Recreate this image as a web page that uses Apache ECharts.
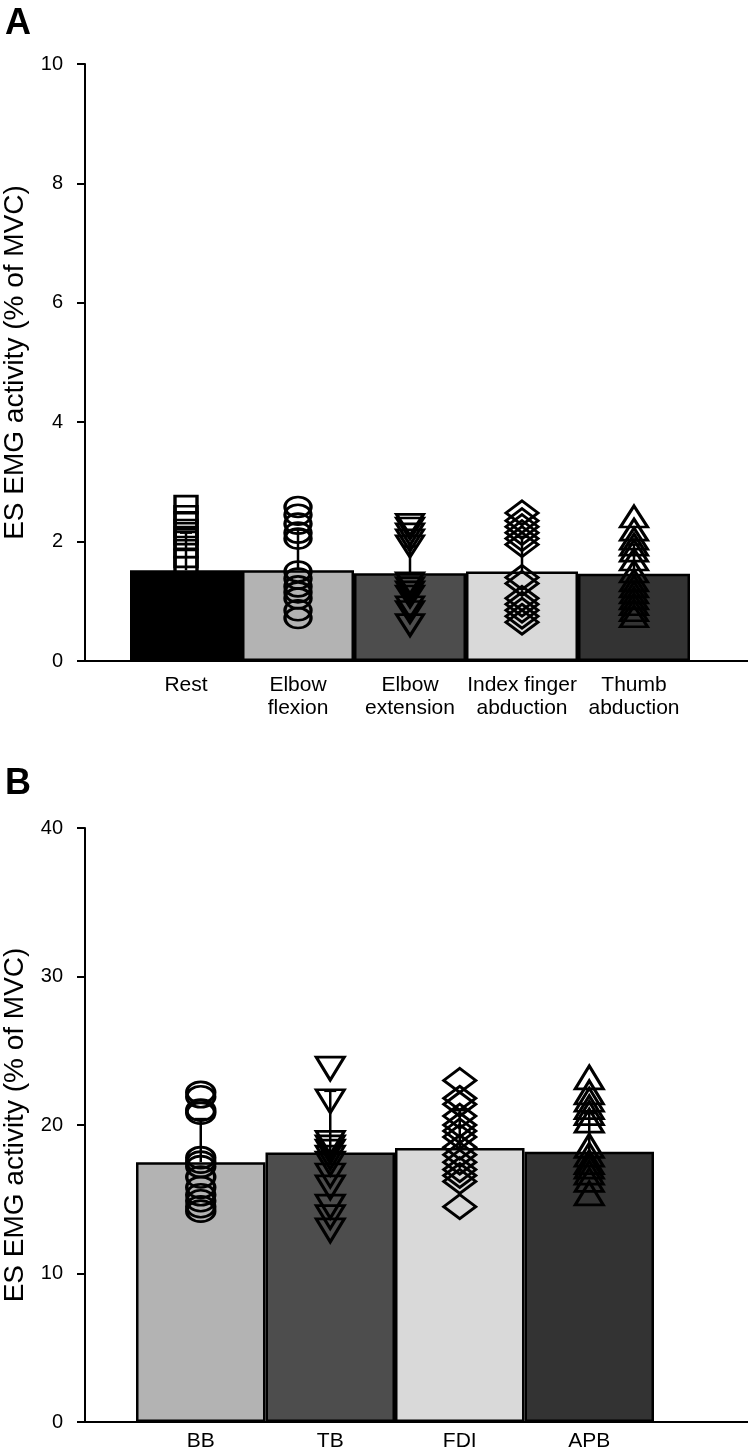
<!DOCTYPE html>
<html>
<head>
<meta charset="utf-8">
<script src="https://cdn.jsdelivr.net/npm/echarts@6/dist/echarts.min.js"></script>
<style>
html,body{margin:0;padding:0;background:#fff;}
#chart{width:748px;height:1452px;}
</style>
</head>
<body>
<div id="chart"></div>
<script>
// ---------- Panel A data ----------
const catsA = ['Rest', 'Elbow\nflexion', 'Elbow\nextension', 'Index finger\nabduction', 'Thumb\nabduction'];
const meansA = [1.52, 1.52, 1.47, 1.50, 1.46];
const sdTopA = [2.15, 2.2, 1.92, 2.08, 1.95];
const colorsA = ['#000000', '#b3b3b3', '#4d4d4d', '#d9d9d9', '#333333'];
const restPts = [2.62, 2.45, 2.35, 2.22, 2.1, 2.02, 1.88, 1.72, 1.6, 1.3, 1.1, 0.9, 0.72];
const flexPts = [2.58, 2.45, 2.3, 2.15, 2.05, 1.5, 1.38, 1.25, 1.15, 1.05, 0.85, 0.72];
const extPts = [2.28, 2.22, 2.12, 2.02, 1.92, 1.3, 1.22, 1.15, 1.08, 0.9, 0.82, 0.6];
const indexPts = [2.48, 2.35, 2.25, 2.15, 2.05, 1.95, 1.4, 1.3, 1.05, 0.95, 0.85, 0.75, 0.65];
const thumbPts = [2.42, 2.2, 2.05, 1.95, 1.85, 1.7, 1.5, 1.35, 1.25, 1.15, 1.05, 0.95, 0.85, 0.75];
const ticksA = {min: 0, max: 10, interval: 2};

// ---------- Panel B data ----------
const catsB = ['BB', 'TB', 'FDI', 'APB'];
const meansB = [17.5, 18.15, 18.45, 18.2];
const sdTopB = [20.4, 22.3, 21.0, 20.8];
const colorsB = ['#b3b3b3', '#4d4d4d', '#d9d9d9', '#333333'];
const bbPts = [22.2, 21.9, 21.0, 20.8, 17.8, 17.5, 17.2, 16.5, 15.8, 15.3, 14.9, 14.5, 14.2];
const tbPts = [23.8, 21.6, 18.8, 18.5, 18.2, 17.8, 17.4, 16.6, 15.8, 14.5, 13.8, 12.9];
const fdiPts = [23.0, 21.8, 21.4, 20.6, 20.0, 19.6, 19.2, 18.5, 18.0, 17.5, 17.0, 16.6, 16.2, 14.5];
const apbPts = [23.2, 22.2, 21.7, 21.2, 20.8, 20.3, 18.6, 18.0, 17.5, 17.2, 16.8, 16.3, 15.4];
const ticksB = {min: 0, max: 40, interval: 10};

const yTitle = 'ES EMG activity (% of MVC)';
const FONT = 'Liberation Sans, Arial, sans-serif';

const symA = [
  {symbol: 'rect', size: [22, 17], rotate: 0},
  {symbol: 'circle', size: [26, 20], rotate: 0},
  {symbol: 'triangle', size: [27, 21], rotate: 180},
  {symbol: 'diamond', size: [32, 24], rotate: 0},
  {symbol: 'triangle', size: [27, 21], rotate: 0}
];
const symB = [
  {symbol: 'circle', size: [28, 21], rotate: 0},
  {symbol: 'triangle', size: [28, 23], rotate: 180},
  {symbol: 'diamond', size: [32, 24], rotate: 0},
  {symbol: 'triangle', size: [28, 23], rotate: 0}
];
const ptsA = [restPts, flexPts, extPts, indexPts, thumbPts];
const ptsB = [bbPts, tbPts, fdiPts, apbPts];

function axisGridAxes(gi, ticks) {
  return {
    x: {gridIndex: gi, type: 'value', min: 0, max: 1, axisLine: {show: true, onZero: false, lineStyle: {color: '#000', width: 2}},
        axisTick: {show: false}, axisLabel: {show: false}, splitLine: {show: false}},
    y: {gridIndex: gi, type: 'value', min: ticks.min, max: ticks.max, interval: ticks.interval,
        axisLine: {show: true, lineStyle: {color: '#000', width: 2}},
        axisTick: {show: true, inside: false, length: 8, lineStyle: {color: '#000', width: 2}},
        axisLabel: {color: '#000', fontSize: 20, fontFamily: FONT, margin: 22},
        splitLine: {show: false},
        name: yTitle, nameLocation: 'middle', nameGap: 56, nameRotate: 90,
        nameTextStyle: {color: '#000', fontSize: 28, fontFamily: FONT}}
  };
}

function barAxes(gi, cats, ticks, margin) {
  return {
    x: {gridIndex: gi, type: 'category', data: cats, boundaryGap: true,
        axisLine: {show: false}, axisTick: {show: false},
        axisLabel: {color: '#000', fontSize: 21, fontFamily: FONT, margin: margin, lineHeight: 23, interval: 0}},
    y: {gridIndex: gi, type: 'value', min: ticks.min, max: ticks.max, show: false, splitLine: {show: false}}
  };
}

const aA = axisGridAxes(0, ticksA);
const bA = barAxes(1, catsA, ticksA, 13);
const aB = axisGridAxes(2, ticksB);
const bB = barAxes(3, catsB, ticksB, 8);

function errSeries(xi, yi, means, tops) {
  return {
    type: 'custom', xAxisIndex: xi, yAxisIndex: yi, z: 4,
    data: tops.map((t, i) => [i, means[i], t]),
    encode: {x: 0, y: 2},
    renderItem: function (params, api) {
      const idx = api.value(0);
      const top = api.coord([idx, api.value(2)]);
      const base = api.coord([idx, api.value(1)]);
      const st = {stroke: '#000', lineWidth: 2.5};
      return {type: 'group', children: [
        {type: 'line', shape: {x1: base[0], y1: base[1], x2: top[0], y2: top[1]}, style: st},
        {type: 'line', shape: {x1: top[0] - 6, y1: top[1], x2: top[0] + 6, y2: top[1]}, style: st}
      ]};
    }
  };
}

function scatterSeries(xi, yi, ptsList, syms) {
  return ptsList.map((pts, i) => ({
    type: 'scatter', xAxisIndex: xi, yAxisIndex: yi, z: 5,
    symbol: syms[i].symbol, symbolSize: syms[i].size, symbolRotate: syms[i].rotate,
    itemStyle: {color: 'rgba(0,0,0,0)', borderColor: '#000', borderWidth: 3, opacity: 1},
    emphasis: {disabled: true},
    data: pts.map(v => [i, v])
  }));
}

function barSeries(xi, yi, means, colors) {
  return {
    type: 'bar', xAxisIndex: xi, yAxisIndex: yi, z: 2, barCategoryGap: '0%',
    data: means.map((m, i) => ({value: m, itemStyle: {color: colors[i]}})),
    itemStyle: {borderColor: '#000', borderWidth: 2.5}
  };
}

const gridBase = {containLabel: false, outerBoundsMode: 'none'};

const option = {
  animation: false,
  backgroundColor: '#fff',
  textStyle: {fontFamily: FONT},
  title: [
    {text: 'A', left: 0, top: 1, textStyle: {fontSize: 36, fontWeight: 'bold', color: '#000', fontFamily: FONT}},
    {text: 'B', left: 0, top: 761, textStyle: {fontSize: 36, fontWeight: 'bold', color: '#000', fontFamily: FONT}}
  ],
  grid: [
    Object.assign({left: 85, top: 64, width: 663, height: 597}, gridBase),
    Object.assign({left: 130, top: 64, width: 560, height: 597}, gridBase),
    Object.assign({left: 85, top: 828, width: 663, height: 594}, gridBase),
    Object.assign({left: 136, top: 828, width: 518, height: 594}, gridBase)
  ],
  xAxis: [aA.x, bA.x, aB.x, bB.x],
  yAxis: [aA.y, bA.y, aB.y, bB.y],
  series: [
    barSeries(1, 1, meansA, colorsA),
    errSeries(1, 1, meansA, sdTopA),
    ...scatterSeries(1, 1, ptsA, symA),
    barSeries(3, 3, meansB, colorsB),
    errSeries(3, 3, meansB, sdTopB),
    ...scatterSeries(3, 3, ptsB, symB)
  ]
};

const chart = echarts.init(document.getElementById('chart'), null, {renderer: 'canvas'});
chart.setOption(option);
</script>
</body>
</html>
